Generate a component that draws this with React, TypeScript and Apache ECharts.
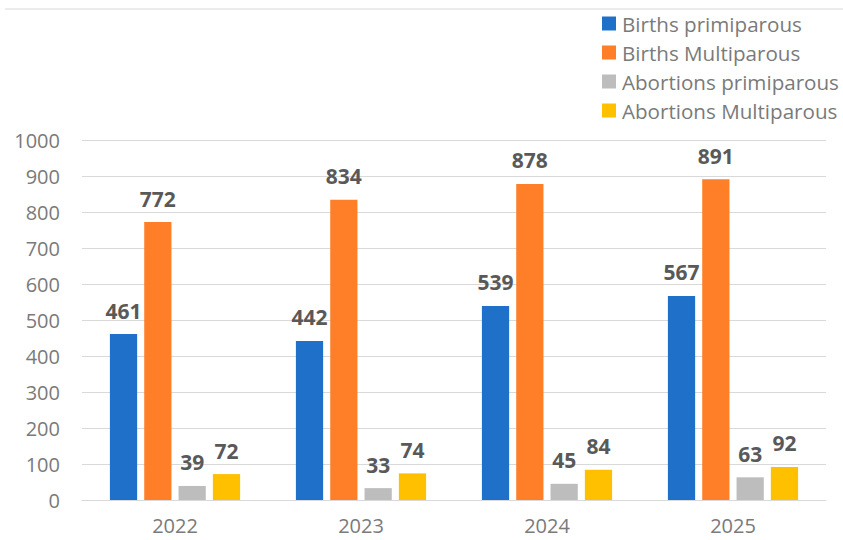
import React, { useEffect, useRef } from "react";
import * as echarts from "echarts";

const categories = ["2022", "2023", "2024", "2025"];
const seriesNames = ["Births primiparous", "Births Multiparous", "Abortions primiparous", "Abortions Multiparous"];
const birthsPrimiparous = [461, 442, 539, 567];
const birthsMultiparous = [772, 834, 878, 891];
const abortionsPrimiparous = [39, 33, 45, 63];
const abortionsMultiparous = [72, 74, 84, 92];
const colors = ["#1f70c8", "#fe7f27", "#bdbdbd", "#ffc000"];

export default function App() {
  const ref = useRef<HTMLDivElement>(null);
  useEffect(() => {
    if (!ref.current) return;
    const chart = echarts.init(ref.current, null, { renderer: "svg" });
    const font = "'Open Sans', 'Noto Sans', sans-serif";
    const data = [birthsPrimiparous, birthsMultiparous, abortionsPrimiparous, abortionsMultiparous];
    chart.setOption({
      animation: false,
      textStyle: { fontFamily: font },
      graphic: [
        { type: "line", shape: { x1: 5, y1: 9, x2: 843, y2: 9 }, style: { stroke: "#d9d9d9", lineWidth: 1 } },
      ],
      legend: {
        orient: "vertical",
        left: 597,
        top: 8,
        itemWidth: 14,
        itemHeight: 14,
        itemGap: 8,
        icon: "rect",
        textStyle: { fontSize: 20.6, color: "#7a7a7a", fontFamily: font, padding: [0, 0, 0, 1] },
        data: seriesNames,
      },
      grid: { left: 82, right: 17, top: 140, bottom: 40, containLabel: false },
      xAxis: {
        type: "category",
        data: categories,
        axisLine: { lineStyle: { color: "#d9d9d9", width: 1 } },
        axisTick: { show: false },
        axisLabel: { fontSize: 20, color: "#7a7a7a", margin: 15, fontFamily: font },
      },
      yAxis: {
        type: "value",
        min: 0,
        max: 1000,
        interval: 100,
        axisLine: { show: false },
        axisTick: { show: false },
        splitLine: { lineStyle: { color: "#d9d9d9", width: 1 } },
        axisLabel: {
          fontSize: 20,
          color: "#7a7a7a",
          margin: 22,
          fontFamily: font,
          formatter: (v: number) => String(v),
        },
      },
      series: seriesNames.map((name, i) => ({
        name,
        type: "bar",
        data: data[i],
        barGap: "26%",
        barCategoryGap: "30%",
        itemStyle: { color: colors[i] },
        label: {
          show: true,
          position: "top",
          distance: 13,
          fontSize: 21,
          fontWeight: "bold",
          color: "#595959",
          fontFamily: font,
        },
      })),
    });
    return () => chart.dispose();
  }, []);
  return <div ref={ref} style={{ width: 843, height: 540, position: "absolute", left: 0, top: 0 }} />;
}
